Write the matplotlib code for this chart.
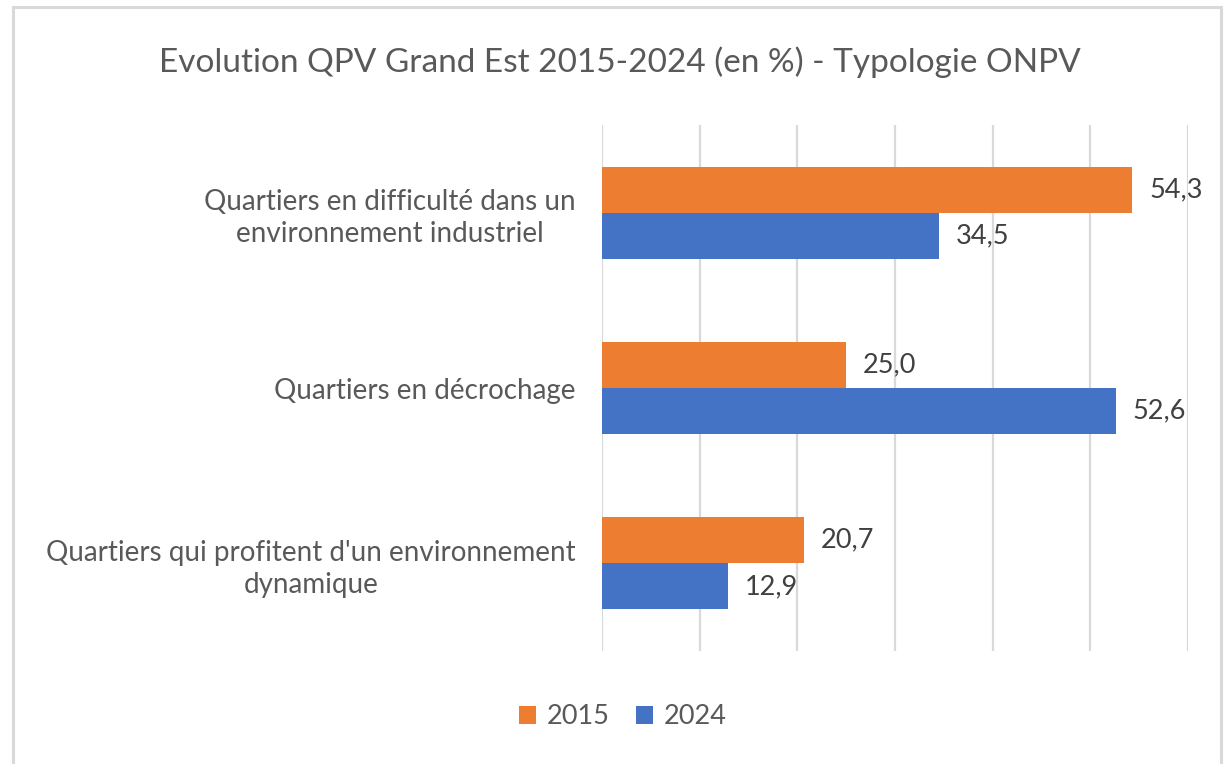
import matplotlib.pyplot as plt
from matplotlib.patches import Rectangle
import numpy as np

plt.rcParams["font.family"] = ["Lato", "DejaVu Sans"]

categories = [
    "Quartiers en difficulté dans un\nenvironnement industriel",
    "Quartiers en décrochage",
    "Quartiers qui profitent d'un environnement\ndynamique",
]
vals_2015 = [54.3, 25.0, 20.7]
vals_2024 = [34.5, 52.6, 12.9]
series = ["2015", "2024"]

ORANGE = "#ED7D31"
BLUE = "#4472C4"
GREY_TXT = "#595959"

W, H = 1227, 764
fig = plt.figure(figsize=(W / 100, H / 100), dpi=100)
fig.patch.set_facecolor("white")
ax = fig.add_axes([602 / W, 1 - 651 / H, (1188 - 602) / W, (651 - 125) / H])

y = np.arange(len(categories))
bh = 0.263
b1 = ax.barh(y - bh / 2, vals_2015, height=bh, color=ORANGE, label=series[0], zorder=3)
b2 = ax.barh(y + bh / 2, vals_2024, height=bh, color=BLUE, label=series[1], zorder=3)

for bars in (b1, b2):
    for rect in bars:
        v = rect.get_width()
        ax.annotate(f"{v:.1f}".replace(".", ","),
                    (v, rect.get_y() + rect.get_height() / 2),
                    xytext=(12, 0), textcoords="offset points",
                    va="center", ha="left", fontsize=19.5, color="#404040")

ax.set_xlim(0, 60)
ax.set_ylim(2.5, -0.5)
ax.set_xticks(np.arange(0, 61, 10))
ax.set_xticklabels([])
ax.tick_params(axis="x", length=0)
ax.set_yticks(y)
ax.set_yticklabels(categories, fontsize=20, color=GREY_TXT, ha="right",
                   multialignment="center", linespacing=1.3)
ax.tick_params(axis="y", length=0, pad=19)
ax.grid(axis="x", color="#D9D9D9", linewidth=1.6, zorder=0)
for s in ax.spines.values():
    s.set_visible(False)

fig.text(620 / W, 1 - 62 / H, "Evolution QPV Grand Est 2015-2024 (en %) - Typologie ONPV",
         ha="center", va="center", fontsize=24, color=GREY_TXT)

fig.legend(handles=[b1, b2], labels=series, loc="center",
           bbox_to_anchor=(623 / W, 1 - 717 / H), ncol=2, frameon=False,
           fontsize=19.5, handlelength=0.6, handleheight=0.6,
           handletextpad=0.4, columnspacing=1.0, labelcolor=GREY_TXT)

fig.add_artist(Rectangle((13 / W, -0.01), (1221 - 13) / W, 1 - 7 / H + 0.01,
                         transform=fig.transFigure, fill=False,
                         edgecolor="#D9D9D9", linewidth=2.2))

fig.savefig("out.png", dpi=100)
